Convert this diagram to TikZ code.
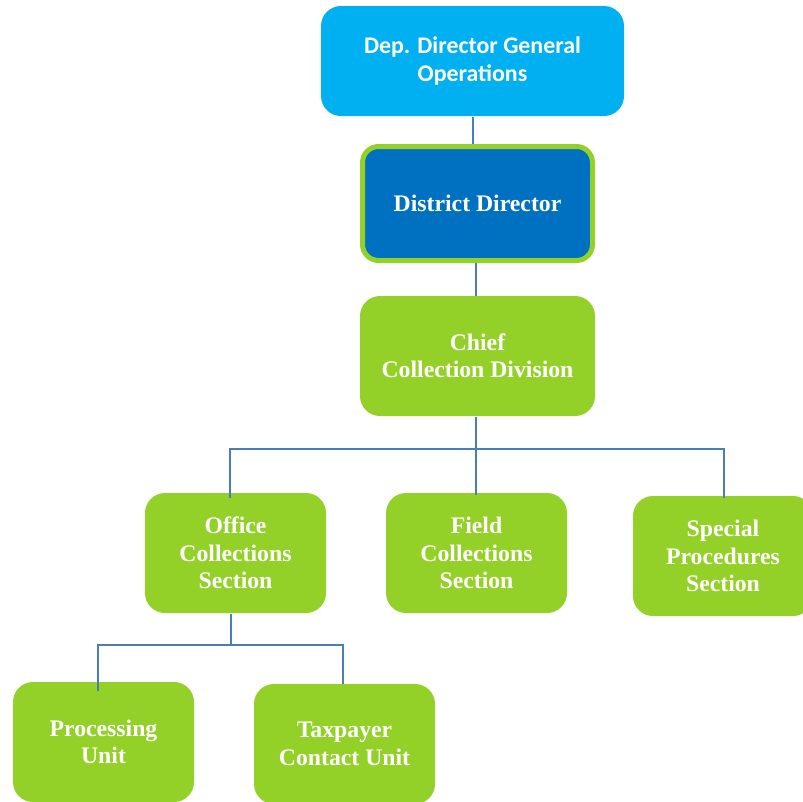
\documentclass[tikz,border=0pt]{standalone}
\usepackage{fontspec}
\setmainfont{Liberation Serif}
\newfontfamily\calibrifont{Carlito}
\usepackage{tikz}
\definecolor{skyblue}{RGB}{0,176,240}
\definecolor{ddblue}{RGB}{0,112,192}
\definecolor{leafgreen}{RGB}{147,209,41}
\definecolor{linkblue}{RGB}{74,126,187}
\tikzset{every picture/.style={line width=0.75pt}}
\tikzset{
  unitbox/.style={rectangle, rounded corners=15pt, fill=leafgreen, draw=none, text=white, align=center, inner sep=0pt,
    font=\bfseries\fontsize{17.8}{20.6}\selectfont, minimum width=135.75pt, minimum height=90pt},
  topbox/.style={unitbox, fill=skyblue, font=\calibrifont\bfseries\fontsize{17.9}{21.5}\selectfont, minimum width=227.25pt, minimum height=82.5pt},
  ddbox/.style={unitbox, rounded corners=12pt, fill=ddblue, draw=leafgreen, line width=3.75pt, minimum width=172.5pt, minimum height=85.5pt},
  link/.style={draw=linkblue, line width=1.5pt}
}

\begin{document}
\begin{tikzpicture}[x=0.75pt,y=0.75pt,yscale=-1]
\useasboundingbox (0,0) rectangle (803,801);
\clip (0,0) rectangle (803,801);

%Branch points
\coordinate (bus) at (476,449);
\coordinate (subbus) at (231,645);

%Top levels
\node[topbox] (dep) at (472.5,61) {Dep. Director General\\Operations};
\node[ddbox] (dd) at (477.5,203.5) {District Director};
\node[unitbox, minimum width=176.25pt] (chief) at (477.5,356) {Chief\\Collection Division};

%Sections
\node[unitbox] (office) at (235.5,553) {Office\\Collections\\Section};
\node[unitbox] (field) at (476.5,553) {Field\\Collections\\Section};
\node[unitbox, minimum width=135pt] (special) at (723,556) {Special\\Procedures\\Section};

%Units
\node[unitbox] (proc) at (103.5,742) {Processing\\Unit};
\node[unitbox] (contact) at (344.5,744) {Taxpayer\\Contact Unit};

%Connectors
\draw[link] (dep.south) -- (dep.south |- dd.north);
\draw[link] (bus |- dd.south) -- (bus |- chief.north);
\draw[link] (bus |- chief.south) -- (bus);
\draw[link] (bus) -| ([xshift=-4.5pt,yshift=3.75pt]office.north);
\draw[link] (bus) -| ([xshift=0.75pt,yshift=1.5pt]special.north);
\draw[link] (bus) -- ([yshift=1.5pt]bus |- field.north);
\draw[link] (subbus |- office.south) -- (subbus);
\draw[link] (subbus) -| ([xshift=-4.5pt,yshift=6.75pt]proc.north);
\draw[link] (subbus) -| ([xshift=-1pt]contact.north);

\end{tikzpicture}
\end{document}
